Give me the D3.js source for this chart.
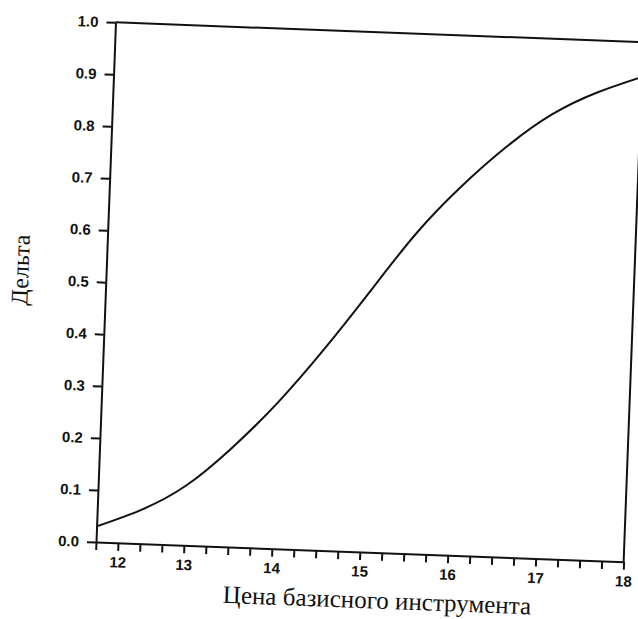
<!DOCTYPE html>
<html>
<head>
<meta charset="utf-8">
<script src="https://cdn.jsdelivr.net/npm/d3@7"></script>
<style>
  html, body { margin: 0; padding: 0; background: #fff; }
  svg { display: block; }
</style>
</head>
<body>
<svg id="chart" width="638" height="619"></svg>
<script>
// price of the underlying and the delta
const prices = [12, 12.5, 13, 13.5, 14, 14.5, 15, 15.5, 16, 16.5, 17, 17.5, 18];
const deltas = [0.03, 0.065, 0.115, 0.19, 0.28, 0.385, 0.5, 0.615, 0.71, 0.79, 0.855, 0.9, 0.933];

const xTicks = d3.range(12, 18.001, 0.25);
const yTicks = d3.range(0, 1.001, 0.1);

const xTitle = "Цена базисного инструмента";
const yTitle = "Дельта";

const w = 528, h = 520;
const tilt = 2.15; // scan is turned a little clockwise

const svg = d3.select("#chart");

const g = svg.append("g")
  .attr("transform", "translate(96,542) rotate(" + tilt + ") translate(0," + (-h) + ")");

const x = d3.scaleLinear().domain([12, 18]).range([0, w]);
const y = d3.scaleLinear().domain([0, 1]).range([h, 0]);

// box: top and right sides
g.append("line")
  .attr("x1", 0).attr("y1", 0).attr("x2", w).attr("y2", 0)
  .attr("stroke", "#111").attr("stroke-width", 2);
g.append("line")
  .attr("x1", w).attr("y1", 0).attr("x2", w).attr("y2", h)
  .attr("stroke", "#111").attr("stroke-width", 2);

// x axis
const xAxis = g.append("g")
  .attr("transform", "translate(0," + h + ")")
  .call(d3.axisBottom(x)
    .tickValues(xTicks)
    .tickSize(8)
    .tickPadding(6)
    .tickSizeOuter(0)
    .tickFormat(d => Math.abs(d - Math.round(d)) < 1e-6 ? d3.format("d")(d) : ""));

// the "12" sits on the first small tick in the original
xAxis.selectAll(".tick text")
  .filter(d => d === 12)
  .attr("x", x(12.25) - x(12));

// y axis
const yAxis = g.append("g")
  .call(d3.axisLeft(y)
    .tickValues(yTicks)
    .tickSize(9)
    .tickPadding(8)
    .tickSizeOuter(0)
    .tickFormat(d3.format(".1f")));

[xAxis, yAxis].forEach(a => {
  a.select(".domain").attr("stroke", "#111").attr("stroke-width", 2);
  a.selectAll(".tick line").attr("stroke", "#111").attr("stroke-width", 2);
  a.selectAll(".tick text")
    .attr("fill", "#111")
    .style("font-family", "'Liberation Sans', Arial, sans-serif")
    .style("font-size", "15px")
    .style("font-weight", "bold");
});

// delta curve
const line = d3.line()
  .x((d, i) => x(prices[i]))
  .y(d => y(d))
  .curve(d3.curveNatural);

g.append("path")
  .datum(deltas)
  .attr("d", line)
  .attr("fill", "none")
  .attr("stroke", "#111")
  .attr("stroke-width", 2);

// titles
g.append("text")
  .attr("x", 283)
  .attr("y", h + 56)
  .attr("text-anchor", "middle")
  .style("font-family", "'Liberation Serif', 'Times New Roman', serif")
  .style("font-size", "25px")
  .attr("fill", "#111")
  .text(xTitle);

g.append("text")
  .attr("transform", "translate(-83,251) rotate(-90)")
  .attr("text-anchor", "middle")
  .attr("dominant-baseline", "middle")
  .style("font-family", "'Liberation Serif', 'Times New Roman', serif")
  .style("font-size", "24px")
  .attr("fill", "#111")
  .text(yTitle);
</script>
</body>
</html>
